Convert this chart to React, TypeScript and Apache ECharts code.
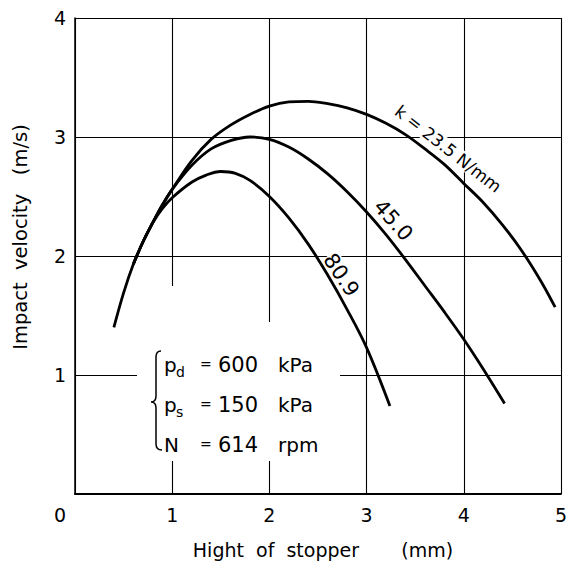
import React, { useEffect, useRef } from "react";
import * as echarts from "echarts";

// ---- data ----
const xRange = [0, 5];
const yRange = [0, 4];
const xAxisName = "Hight  of  stopper       (mm)";
const yAxisName = "Impact  velocity   (m/s)";

const curveK235: [number, number][] = [
  [0.40, 1.40], [0.5, 1.69], [0.6, 1.93], [0.7, 2.12], [0.8, 2.28], [0.9, 2.43],
  [1.0, 2.56], [1.2, 2.80], [1.4, 2.98], [1.6, 3.10], [1.8, 3.19], [2.0, 3.26],
  [2.2, 3.295], [2.4, 3.30], [2.6, 3.28], [2.8, 3.245], [3.0, 3.19], [3.2, 3.115],
  [3.4, 3.02], [3.6, 2.90], [3.8, 2.77], [4.0, 2.61], [4.2, 2.45], [4.4, 2.26],
  [4.6, 2.04], [4.8, 1.78], [4.94, 1.57],
];
const curveK450: [number, number][] = [
  [0.6, 1.93], [0.7, 2.12], [0.8, 2.28], [0.9, 2.43], [1.0, 2.56], [1.2, 2.76],
  [1.4, 2.90], [1.6, 2.97], [1.8, 3.0], [2.0, 2.98], [2.2, 2.915], [2.4, 2.815],
  [2.6, 2.69], [2.8, 2.54], [3.0, 2.37], [3.2, 2.18], [3.4, 1.97], [3.6, 1.75],
  [3.8, 1.53], [4.0, 1.30], [4.2, 1.05], [4.42, 0.76],
];
const curveK809: [number, number][] = [
  [0.6, 1.93], [0.7, 2.12], [0.8, 2.28], [0.9, 2.40], [1.0, 2.49], [1.2, 2.62],
  [1.35, 2.68], [1.5, 2.71], [1.65, 2.695], [1.8, 2.635], [2.0, 2.50], [2.2, 2.32],
  [2.4, 2.10], [2.6, 1.84], [2.8, 1.55], [3.0, 1.23], [3.24, 0.74],
];
const seriesList = [curveK235, curveK450, curveK809];

const curveLabels = [
  { text: "k = 23.5 N/mm", at: [3.84, 2.90], angle: -38, size: 17 },
  { text: "45.0", at: [3.275, 2.30], angle: -48, size: 21 },
  { text: "80.9", at: [2.74, 1.84], angle: -56, size: 21 },
];

const conditionSymbols = ["p", "p", "N"];
const conditionSubs = ["d", "s", ""];
const conditionValues = ["600", "150", "614"];
const conditionUnits = ["kPa", "kPa", "rpm"];

const FONT = '"DejaVu Sans", sans-serif';

export default function App() {
  const ref = useRef<HTMLDivElement>(null);
  useEffect(() => {
    if (!ref.current) return;
    const chart = echarts.init(ref.current, undefined, { renderer: "svg" });
    const option: any = {
      animation: false,
      backgroundColor: "#fff",
      grid: { left: 75, top: 18, width: 487, height: 476, containLabel: false },
      xAxis: {
        type: "value",
        min: xRange[0],
        max: xRange[1],
        interval: 1,
        name: xAxisName,
        nameLocation: "middle",
        nameGap: 46,
        nameTextStyle: { fontFamily: FONT, fontSize: 19, color: "#000", padding: [0, 0, 0, 10] },
        axisLine: { show: true, lineStyle: { color: "#000", width: 1.8 } },
        axisTick: { show: false },
        axisLabel: {
          fontFamily: FONT,
          fontSize: 19,
          color: "#000",
          margin: 11,
          formatter: (v: number) => (v === 0 ? "{o|0}" : String(v)),
          rich: { o: { fontFamily: FONT, fontSize: 19, color: "#000", padding: [0, 30, 0, 0] } },
        },
        splitLine: { show: true, lineStyle: { color: "#000", width: 1.1 } },
      },
      yAxis: {
        type: "value",
        min: yRange[0],
        max: yRange[1],
        interval: 1,
        name: yAxisName,
        nameLocation: "middle",
        nameGap: 45,
        nameRotate: 90,
        nameTextStyle: { fontFamily: FONT, fontSize: 19.5, color: "#000", padding: [0, 0, 0, 38] },
        axisLine: { show: true, lineStyle: { color: "#000", width: 1.5 } },
        axisTick: { show: false },
        axisLabel: {
          fontFamily: FONT,
          fontSize: 19,
          color: "#000",
          margin: 9,
          formatter: (v: number) => (v === 0 ? "" : String(v)),
        },
        splitLine: { show: true, lineStyle: { color: "#000", width: 1.1 } },
      },
      series: seriesList.map((d) => ({
        type: "line",
        data: d,
        smooth: 0.35,
        showSymbol: false,
        z: 2,
        lineStyle: { color: "#000", width: 2.8 },
      })),
    };
    chart.setOption(option);

    const graphics: any[] = [];
    // blank areas of the original behind the parameter block
    graphics.push({ type: "rect", z: 1, shape: { x: 137, y: 322, width: 203, height: 139 }, style: { fill: "#fff" } });
    graphics.push({ type: "rect", z: 1, shape: { x: 165, y: 286, width: 16, height: 37 }, style: { fill: "#fff" } });

    curveLabels.forEach((l) => {
      const p = chart.convertToPixel({ gridIndex: 0 }, l.at) as number[];
      graphics.push({
        type: "text",
        z: 1,
        x: p[0],
        y: p[1],
        rotation: (l.angle * Math.PI) / 180,
        style: {
          text: l.text,
          font: `${l.size}px ${FONT}`,
          fill: "#000",
          textAlign: "center",
          textVerticalAlign: "middle",
          backgroundColor: "#fff",
        },
      });
    });

    // brace
    echarts.graphic.registerShape(
      "brace",
      echarts.graphic.extendPath(
        "M10,0 Q5,0 5,6 L5,45 Q5,51 0,51 Q5,51 5,57 L5,93 Q5,99 11,99",
        {}
      ) as any
    );
    graphics.push({
      type: "brace",
      z: 3,
      x: 151,
      y: 351,
      scaleX: 1,
      scaleY: 1,
      style: { stroke: "#000", fill: "none", lineWidth: 1.5 },
    });

    const rowY = [364.5, 404.5, 444.5];
    conditionSymbols.forEach((s, i) => {
      const y = rowY[i];
      graphics.push({ type: "text", z: 3, x: 164, y, style: { text: s, font: `20px ${FONT}`, fill: "#000", textAlign: "left", textVerticalAlign: "middle" } });
      if (conditionSubs[i]) {
        graphics.push({ type: "text", z: 3, x: 176, y: y + 7, style: { text: conditionSubs[i], font: `14px ${FONT}`, fill: "#000", textAlign: "left", textVerticalAlign: "middle" } });
      }
      graphics.push({ type: "text", z: 3, x: 200, y: y - 1, style: { text: "=", font: `14px ${FONT}`, fill: "#000", textAlign: "left", textVerticalAlign: "middle" } });
      graphics.push({ type: "text", z: 3, x: 218, y, style: { text: conditionValues[i], font: `21px ${FONT}`, fill: "#000", textAlign: "left", textVerticalAlign: "middle" } });
      graphics.push({ type: "text", z: 3, x: 278, y, style: { text: conditionUnits[i], font: `20px ${FONT}`, fill: "#000", textAlign: "left", textVerticalAlign: "middle" } });
    });

    chart.setOption({ graphic: graphics });
    return () => chart.dispose();
  }, []);
  return (
    <div
      ref={ref}
      style={{ position: "fixed", left: 0, top: 0, width: 570, height: 569, background: "#fff" }}
    />
  );
}
